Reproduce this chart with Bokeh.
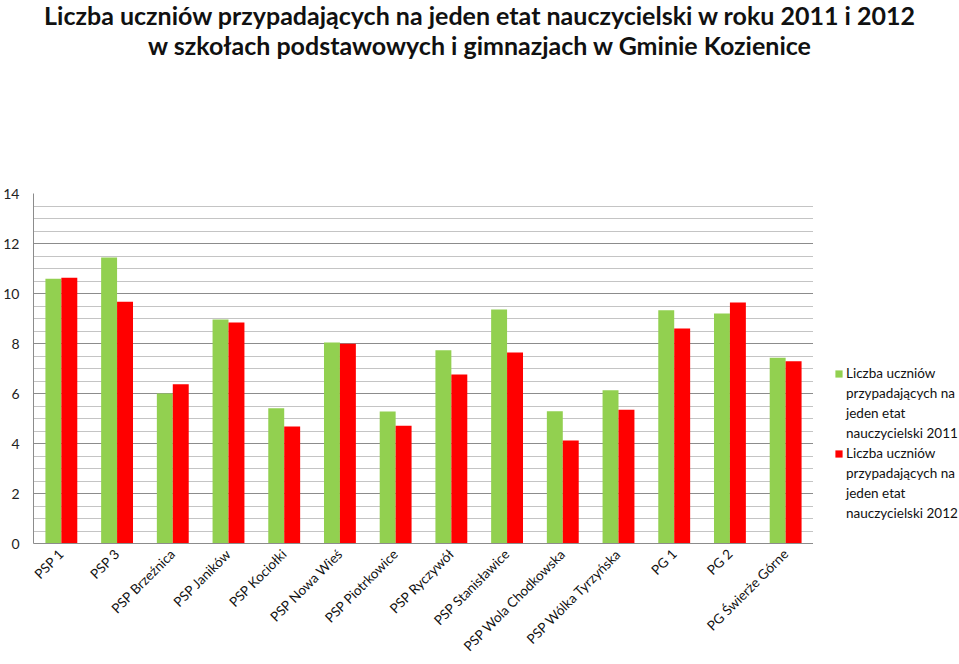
from math import pi
from bokeh.plotting import figure
from bokeh.models import (FactorRange, Range1d, SingleIntervalTicker, Legend, LegendItem,
                          ColumnDataSource, Div)
from bokeh.transform import dodge
from bokeh.layouts import column, row
from bokeh.embed import file_html
from bokeh.resources import INLINE

schools = ["PSP 1", "PSP 3", "PSP Brzeźnica", "PSP Janików", "PSP Kociołki", "PSP Nowa Wieś",
           "PSP Piotrkowice", "PSP Ryczywół", "PSP Stanisławice", "PSP Wola Chodkowska",
           "PSP Wólka Tyrzyńska", "PG 1", "PG 2", "PG Świerże Górne"]
v2011 = [10.59, 11.44, 6.00, 8.96, 5.41, 8.04, 5.28, 7.73, 9.36, 5.29, 6.13, 9.33, 9.20, 7.43]
v2012 = [10.63, 9.67, 6.37, 8.84, 4.68, 7.99, 4.71, 6.76, 7.64, 4.12, 5.35, 8.60, 9.64, 7.29]
label2011 = ["Liczba uczniów", "przypadających na", "jeden etat", "nauczycielski 2011"]
label2012 = ["Liczba uczniów", "przypadających na", "jeden etat", "nauczycielski 2012"]
title_lines = ["Liczba uczniów przypadających na jeden etat nauczycielski w roku 2011 i 2012",
               "w szkołach podstawowych i gimnazjach w Gminie Kozienice"]

FONT = "Lato"
GREEN, RED = "#92D050", "#FF0000"
src = ColumnDataSource(dict(school=schools, v2011=v2011, v2012=v2012))

title = Div(text="<div style='text-align:center;font-family:Lato;font-weight:bold;font-size:25px;"
                 "line-height:30px;color:#111;width:959px;white-space:nowrap'>"
                 + "<br>".join(title_lines) + "</div>",
            width=959, height=66, margin=(0, 0, 0, 0))

p = figure(width=813, height=598, x_range=FactorRange(*schools, range_padding=0),
           y_range=Range1d(0, 14), output_backend="svg", toolbar_location=None,
           min_border_left=30, min_border_right=0, min_border_top=127, min_border_bottom=121,
           margin=(0, 0, 0, 0))
p.outline_line_color = None
p.background_fill_color = "white"
p.border_fill_color = "white"

p.vbar(x=dodge("school", -0.143, range=p.x_range), top="v2011", width=0.286, source=src,
       fill_color=GREEN, line_color=None)
p.vbar(x=dodge("school", 0.143, range=p.x_range), top="v2012", width=0.286, source=src,
       fill_color=RED, line_color=None)

p.yaxis.ticker = SingleIntervalTicker(interval=2, num_minor_ticks=4)
p.yaxis.axis_line_color = "#8c8c8c"
p.yaxis.major_tick_line_color = None
p.yaxis.minor_tick_line_color = None
p.yaxis.major_label_text_font = FONT
p.yaxis.major_label_text_font_size = "14px"
p.yaxis.major_label_text_color = "#222"
p.yaxis.major_label_standoff = 8

p.xaxis.axis_line_color = "#8c8c8c"
p.xaxis.major_tick_line_color = None
p.xaxis.minor_tick_line_color = None
p.xaxis.major_label_orientation = pi / 4
p.xaxis.major_label_text_font = FONT
p.xaxis.major_label_text_font_size = "13.5px"
p.xaxis.major_label_text_color = "#111"
p.xaxis.major_label_standoff = 2

p.xgrid.grid_line_color = None
p.ygrid.ticker = SingleIntervalTicker(interval=2, num_minor_ticks=4)
p.ygrid.grid_line_color = "#8c8c8c"
p.ygrid.minor_grid_line_color = "#c4c4c4"

# legend panel as a separate, axis-less figure (its frame is aligned with the chart's frame)
lf = figure(width=146, height=598, x_range=Range1d(0, 1), y_range=Range1d(0, 1),
            output_backend="svg", toolbar_location=None, min_border=0,
            margin=(0, 0, 0, 0))
lf.axis.visible = False
lf.grid.visible = False
lf.outline_line_color = None
offscreen = ColumnDataSource(dict(x=[10], top=[10]))
g1 = lf.vbar(x="x", top="top", width=0.1, source=offscreen, fill_color=GREEN, line_color=None)
g2 = lf.vbar(x="x", top="top", width=0.1, source=offscreen, fill_color=RED, line_color=None)
blank = lf.scatter(x=[10], y=[10], fill_alpha=0, line_alpha=0)

items = []
for lines, r in ((label2011, g1), (label2012, g2)):
    items.append(LegendItem(label=lines[0], renderers=[r]))
    for ln in lines[1:]:
        items.append(LegendItem(label=ln, renderers=[blank]))

legend = Legend(items=items, location=(21, 20), orientation="vertical")
legend.label_text_font = FONT
legend.label_text_font_size = "13.5px"
legend.label_text_color = "#111"
legend.label_height = 20
legend.glyph_width = 9
legend.glyph_height = 9
legend.label_standoff = 3
legend.spacing = 0
legend.padding = 0
legend.margin = 0
legend.border_line_color = None
legend.background_fill_alpha = 0
lf.add_layout(legend)

layout = column(title, row(p, lf, spacing=0), spacing=0)
open("out.html", "w").write(file_html(layout, INLINE))
